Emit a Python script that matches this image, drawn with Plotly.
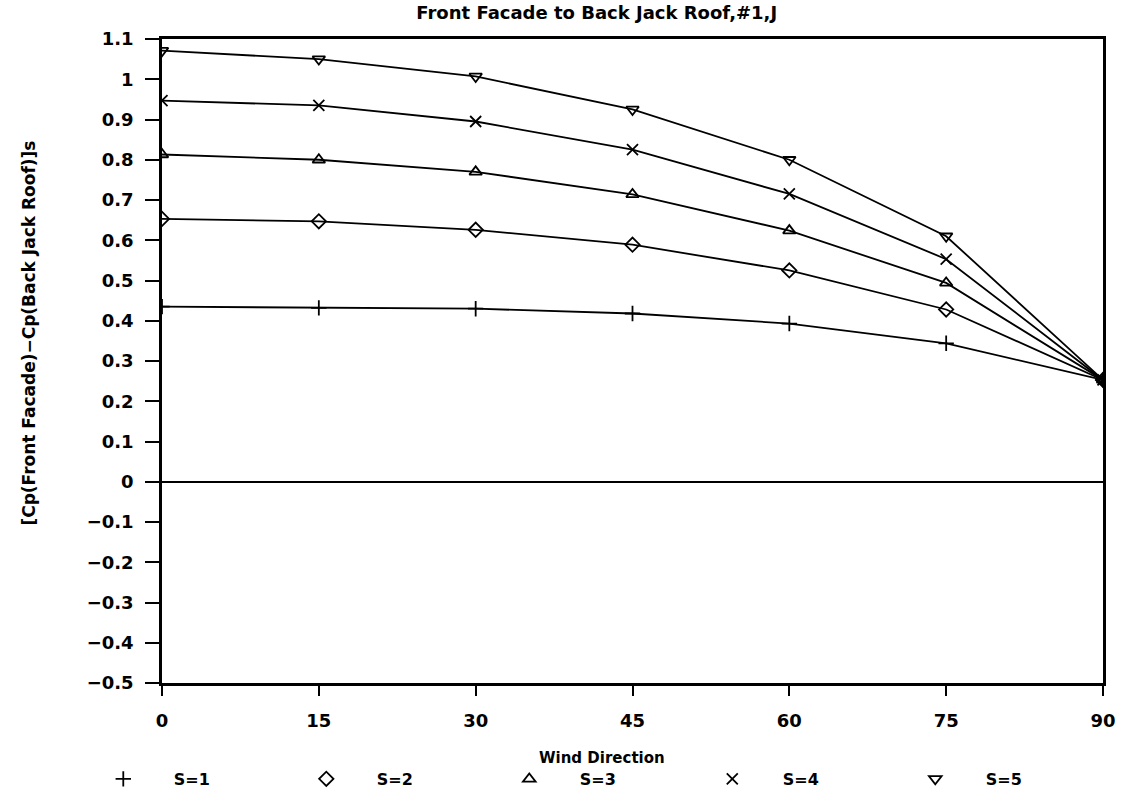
import plotly.graph_objects as go

wind_direction = [0, 15, 30, 45, 60, 75, 90]
s1 = [0.435, 0.432, 0.430, 0.418, 0.393, 0.344, 0.253]
s2 = [0.653, 0.647, 0.626, 0.589, 0.525, 0.428, 0.253]
s3 = [0.813, 0.800, 0.770, 0.714, 0.624, 0.494, 0.253]
s4 = [0.947, 0.935, 0.895, 0.825, 0.715, 0.553, 0.253]
s5 = [1.071, 1.050, 1.007, 0.925, 0.800, 0.610, 0.253]

series_names = ["S=1", "S=2", "S=3", "S=4", "S=5"]
series_values = [s1, s2, s3, s4, s5]
symbols = ["cross-thin-open", "diamond-open", "triangle-up-open", "x-thin-open", "triangle-down-open"]

x_ticks = [0, 15, 30, 45, 60, 75, 90]
y_ticks = [round(-0.5 + 0.1 * i, 1) for i in range(17)]
y_tick_text = ["0" if v == 0 else ("1" if v == 1 else f"{v:g}".replace("-", "\u2212")) for v in y_ticks]

FONT = "DejaVu Sans"
pad = "&nbsp;" * 6

fig = go.Figure()
for name, vals in zip(series_names, series_values):
    fig.add_trace(go.Scatter(
        x=wind_direction, y=vals, mode="lines", name=name, showlegend=False,
        line=dict(color="black", width=1.8), hoverinfo="skip",
    ))
for name, vals, sym in zip(series_names, series_values, symbols):
    fig.add_trace(go.Scatter(
        x=wind_direction, y=vals, mode="markers", name=pad + "<b>" + name + "</b>",
        marker=dict(symbol=sym, size=11, color="black", line=dict(color="black", width=1.8)),
    ))

fig.update_layout(
    width=1128, height=808,
    margin=dict(l=162, r=19, t=39, b=120),
    paper_bgcolor="white", plot_bgcolor="white",
    font=dict(family=FONT, size=16, color="black"),
    title=dict(text="<b>Front Facade to Back Jack Roof,#1,J</b>", x=0.462, xref="paper", xanchor="center",
               y=1 - 13 / 808, yanchor="middle", font=dict(family=FONT, size=18, color="black")),
    showlegend=True,
    legend=dict(orientation="h", x=-0.0624, y=-0.149, xanchor="left", yanchor="middle",
                entrywidth=158, entrywidthmode="pixels", itemwidth=30,
                font=dict(family=FONT, size=16, color="black"), bgcolor="rgba(0,0,0,0)"),
    xaxis=dict(range=[0, 90], tickvals=x_ticks, ticktext=[f"<b>{v}</b>" for v in x_ticks],
               ticks="outside", ticklen=10, tickwidth=2,
               tickcolor="black", showline=True, linecolor="black", linewidth=2.5, mirror=True,
               showgrid=False, zeroline=False, ticklabelstandoff=10,
               tickfont=dict(family=FONT, size=18, color="black")),
    yaxis=dict(range=[-0.5, 1.1], tickvals=y_ticks, ticktext=[f"<b>{t}</b>" for t in y_tick_text],
               ticks="outside",
               ticklen=14, tickwidth=2, tickcolor="black", showline=True, linecolor="black",
               linewidth=2.5, mirror=True, showgrid=False, zeroline=True, zerolinecolor="black",
               zerolinewidth=1.5, ticklabelstandoff=8,
               tickfont=dict(family=FONT, size=18, color="black")),
    annotations=[
        dict(text="<b>Wind Direction</b>", xref="paper", yref="paper", x=0.468, y=(688 - 764) / 649,
             xanchor="center", yanchor="middle", showarrow=False,
             font=dict(family=FONT, size=15, color="black")),
        dict(text="<b>[Cp(Front Facade)\u2212Cp(Back Jack Roof)]s</b>", xref="paper", yref="paper",
             x=(28 - 162) / 947, y=(688 - 335) / 649, xanchor="center", yanchor="middle",
             textangle=-90, showarrow=False, font=dict(family=FONT, size=17, color="black")),
    ],
)

fig.write_html("out.html")
